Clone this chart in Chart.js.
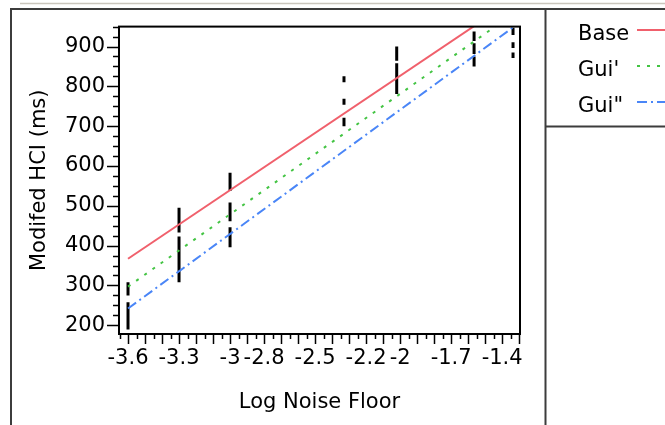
<!DOCTYPE html>
<html>
<head>
<meta charset="utf-8">
<script src="https://cdn.jsdelivr.net/npm/chart.js@4.4.1/dist/chart.umd.min.js"></script>
<style>
  html, body { margin: 0; padding: 0; background: #fff; }
  canvas { display: block; }
</style>
</head>
<body>
<canvas id="noiseChart" width="665" height="425"></canvas>
<script>
// log noise floor of each group of trials
const noiseLevels = [-3.6, -3.3, -3.0, -2.33, -2.02, -1.565, -1.336];
// runs of stacked observations per group, [low, high] in ms
const hciRuns = [
  [[189, 258], [275, 308]],
  [[308, 423], [433, 495]],
  [[396, 446], [461, 508], [537, 583]],
  [[700, 721], [754, 769], [810, 825]],
  [[781, 858], [864, 900]],
  [[850, 875], [881, 908], [914, 938]],
  [[871, 885], [896, 911], [929, 947]]
];

// fitted lines, value at the first and the last noise level
const seriesNames = ['Base', "Gui'", 'Gui"'];
const fitAtStart = [367, 297, 242];
const fitAtEnd = [1017, 982, 948];

const xTickValues = [-3.6, -3.3, -3, -2.8, -2.5, -2.2, -2, -1.7, -1.4];
const yTickValues = [200, 300, 400, 500, 600, 700, 800, 900];

const FONT = { family: 'DejaVu Sans', size: 21 };
const lineColors = ['#f0606c', '#44c444', '#4a86f7'];
const lineDashes = [[], [3, 7], [10, 4, 2, 4]];

// points with null gaps so each run is its own vertical stroke
const runPoints = [];
noiseLevels.forEach((x, i) => {
  hciRuns[i].forEach(([lo, hi]) => {
    runPoints.push({ x, y: lo }, { x, y: hi }, { x, y: null });
  });
});

const firstX = noiseLevels[0];
const lastX = noiseLevels[noiseLevels.length - 1];
const fitDatasets = seriesNames.map((name, i) => ({
  label: name,
  data: [{ x: firstX, y: fitAtStart[i] }, { x: lastX, y: fitAtEnd[i] }],
  borderColor: lineColors[i],
  borderDash: lineDashes[i],
  borderWidth: 2,
  pointRadius: 0,
  clip: 0,
  order: 0
}));

const framePlugin = {
  id: 'jmpFrame',
  afterDraw(chart) {
    const { ctx, chartArea: a, scales: { x, y } } = chart;
    ctx.save();

    // window frame
    ctx.strokeStyle = '#cac6bd';
    ctx.lineWidth = 1.5;
    ctx.beginPath();
    ctx.moveTo(20, 3.5); ctx.lineTo(665, 3.5);
    ctx.stroke();

    ctx.strokeStyle = '#3c3c3c';
    ctx.lineWidth = 2;
    ctx.beginPath();
    ctx.moveTo(11, 425); ctx.lineTo(11, 9); ctx.lineTo(665, 9);
    ctx.moveTo(545.5, 9); ctx.lineTo(545.5, 425);
    ctx.moveTo(545.5, 126.5); ctx.lineTo(665, 126.5);
    ctx.stroke();

    // plot box
    ctx.strokeStyle = '#000';
    ctx.strokeRect(a.left, a.top, a.right - a.left, a.bottom - a.top);

    // tick marks
    ctx.lineWidth = 1.5;
    ctx.beginPath();
    for (let i = 8; i <= 38; i++) {
      const py = Math.round(y.getPixelForValue(i * 25)) + 0.5;
      const len = i % 4 === 0 ? 12 : 6;
      ctx.moveTo(a.left, py); ctx.lineTo(a.left - len, py);
    }
    for (let i = -73; i <= -26; i++) {
      const px = Math.round(x.getPixelForValue(i * 0.05)) + 0.5;
      if (px < a.left || px > a.right) continue;
      const len = i % 2 === 0 ? 10 : 5;
      ctx.moveTo(px, a.bottom); ctx.lineTo(px, a.bottom + len);
    }
    ctx.stroke();

    // legend: name, then a line sample
    ctx.font = `${FONT.size}px "${FONT.family}"`;
    ctx.fillStyle = '#000';
    ctx.textBaseline = 'middle';
    ctx.textAlign = 'left';
    chart.data.datasets.forEach((ds, i) => {
      if (!ds.label) return;
      const ty = 35 + i * 36;
      ctx.fillText(ds.label, 578, ty);
      ctx.strokeStyle = ds.borderColor;
      ctx.lineWidth = 2;
      ctx.setLineDash(ds.borderDash);
      ctx.beginPath();
      ctx.moveTo(637, ty - 5); ctx.lineTo(665, ty - 5);
      ctx.stroke();
      ctx.setLineDash([]);
    });

    ctx.restore();
  }
};

new Chart(document.getElementById('noiseChart'), {
  type: 'line',
  data: {
    datasets: [
      ...fitDatasets,
      {
        data: runPoints,
        borderColor: '#000',
        borderWidth: 3,
        borderCapStyle: 'butt',
        pointRadius: 0,
        spanGaps: false,
        clip: 0,
        order: 1
      }
    ]
  },
  options: {
    responsive: false,
    animation: false,
    devicePixelRatio: 1,
    layout: { padding: { top: 26, right: 145, bottom: 0, left: 0 } },
    plugins: {
      legend: { display: false },
      tooltip: { enabled: false }
    },
    scales: {
      x: {
        type: 'linear',
        min: -3.653,
        max: -1.295,
        afterFit: (scale) => { scale.height = 91; },
        afterBuildTicks: (scale) => {
          scale.ticks = xTickValues.map(v => ({ value: v }));
        },
        ticks: {
          autoSkip: false,
          maxRotation: 0,
          padding: 12,
          color: '#000',
          font: FONT,
          callback: (v) => String(v)
        },
        grid: { display: false, drawTicks: false },
        border: { display: false },
        title: {
          display: true,
          text: 'Log Noise Floor',
          color: '#000',
          font: FONT,
          padding: { top: 0, bottom: 10 }
        }
      },
      y: {
        type: 'linear',
        min: 178,
        max: 950,
        afterFit: (scale) => { scale.width = 119; },
        afterBuildTicks: (scale) => {
          scale.ticks = yTickValues.map(v => ({ value: v }));
        },
        ticks: {
          padding: 14,
          color: '#000',
          font: FONT,
          callback: (v) => String(v)
        },
        grid: { display: false, drawTicks: false },
        border: { display: false },
        title: {
          display: true,
          text: 'Modifed HCI (ms)',
          color: '#000',
          font: FONT,
          padding: { top: 27, bottom: 0 }
        }
      }
    }
  },
  plugins: [framePlugin]
});
</script>
</body>
</html>
